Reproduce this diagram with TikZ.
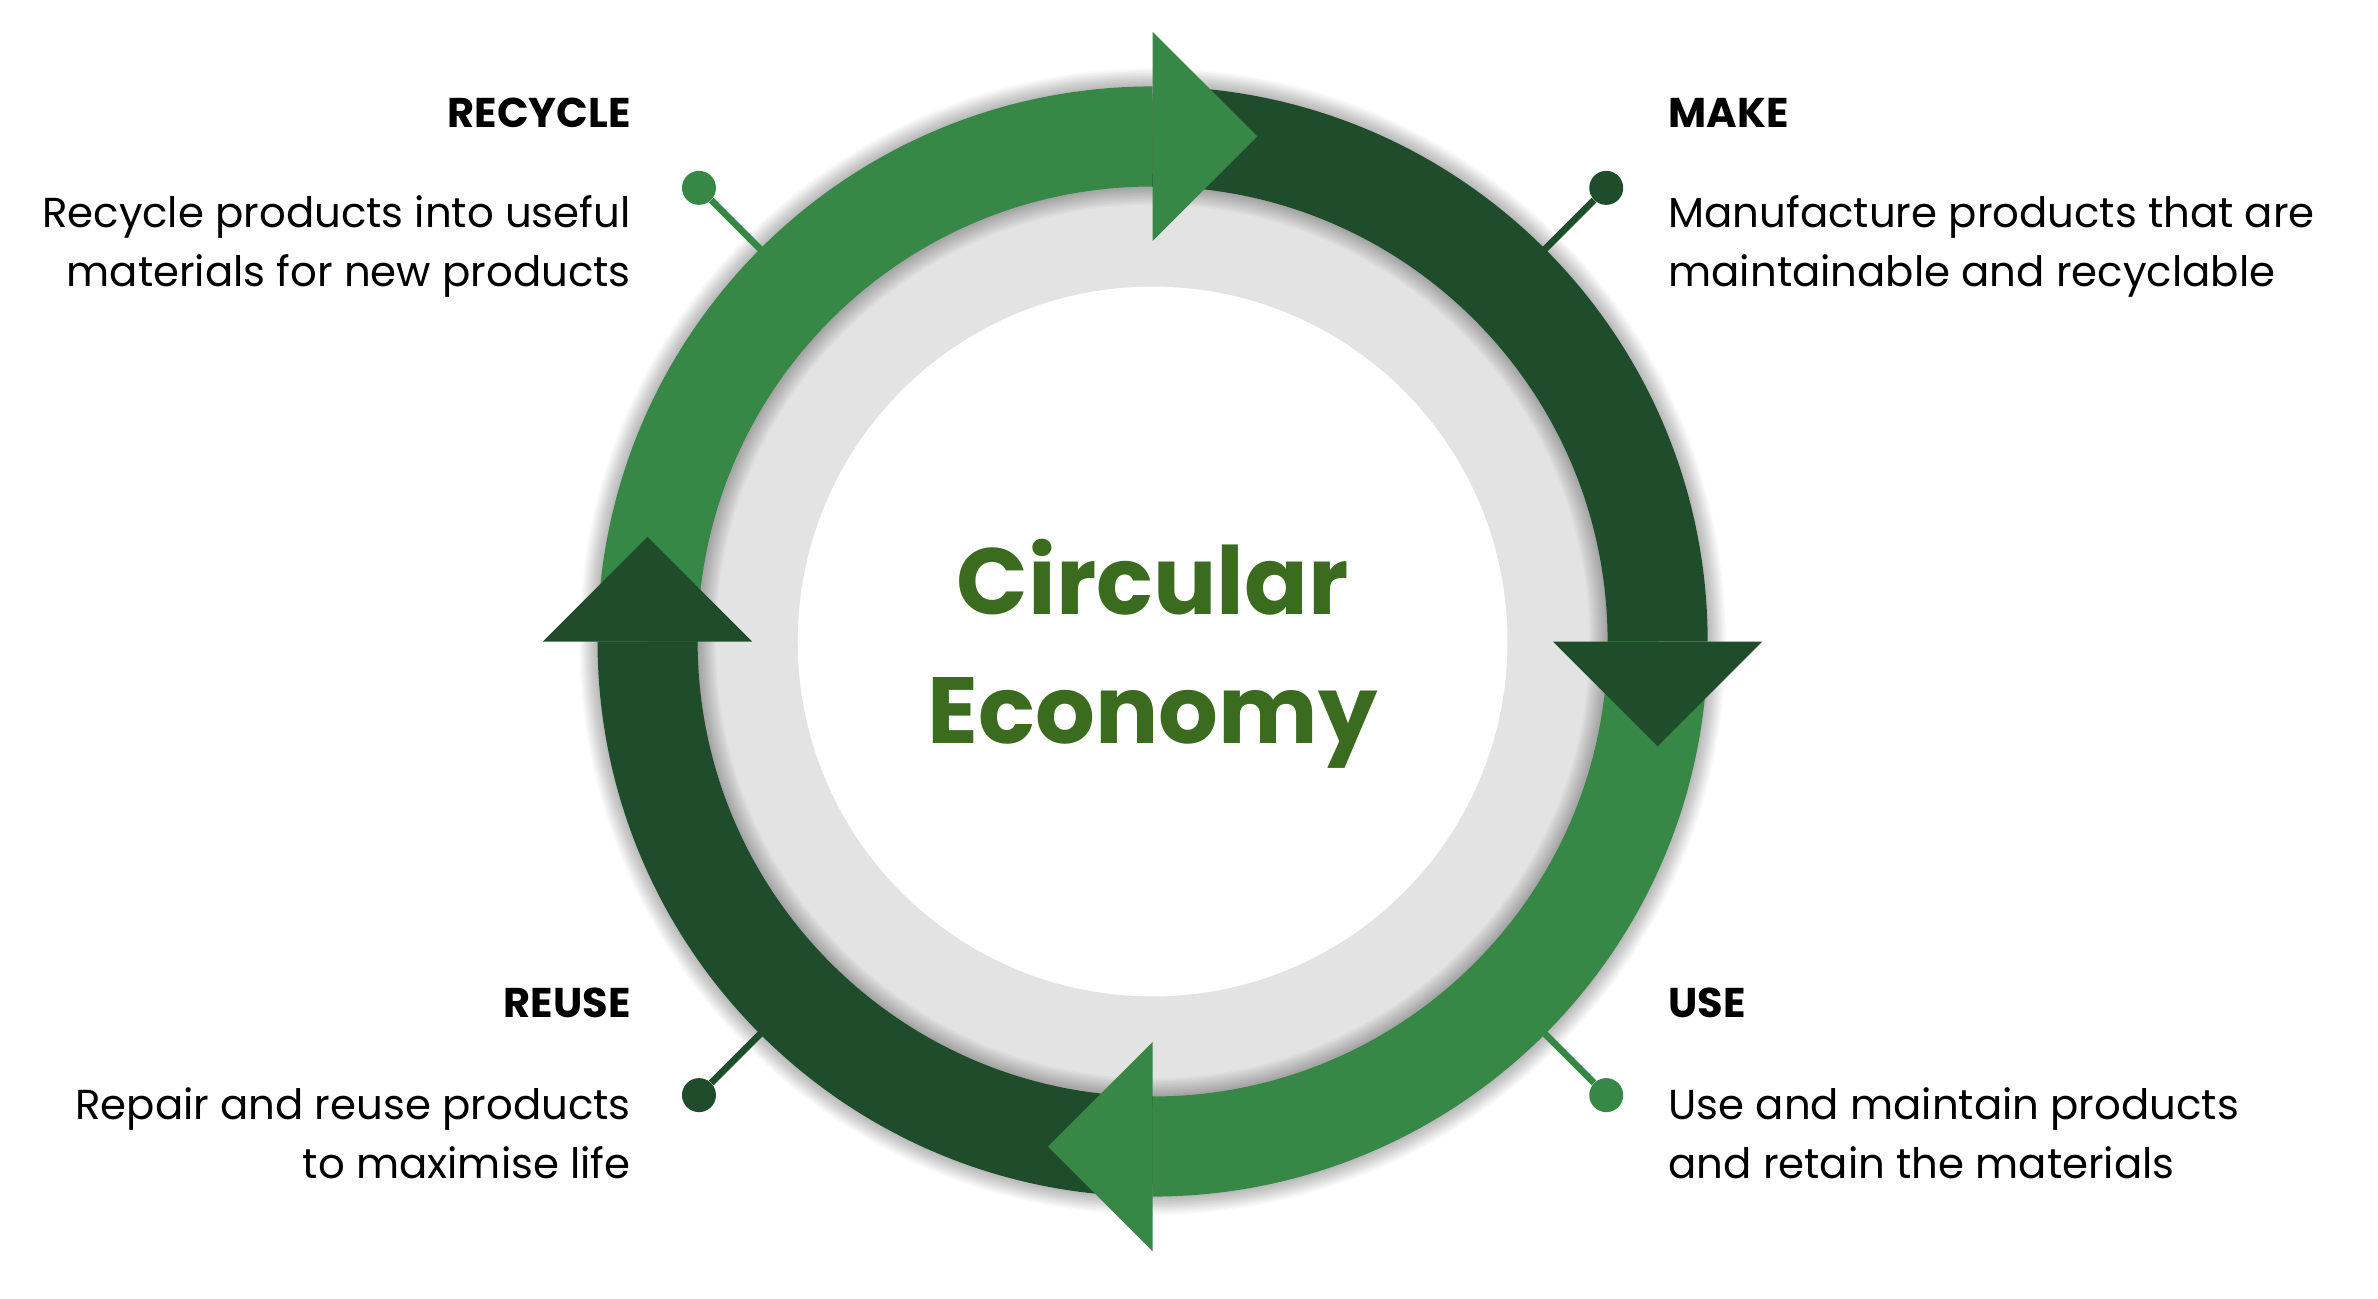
\documentclass[tikz,border=0pt]{standalone}
\usepackage{fontspec}
\setmainfont{Poppins}
\usetikzlibrary{calc}
\definecolor{lgreen}{HTML}{378747}
\definecolor{dgreen}{HTML}{1F4D2B}
\definecolor{tgreen}{HTML}{3B6B1F}
\definecolor{ringgrey}{HTML}{E3E3E3}
\begin{document}
\begin{tikzpicture}[x=1pt,y=1pt,
  title/.style={font=\fontsize{27.4}{32}\selectfont\bfseries, text=black, inner sep=0pt},
  body/.style={font=\fontsize{27.6}{39}\selectfont, text=black, inner sep=0pt},
  center/.style={font=\fontsize{62}{85}\selectfont\bfseries, text=tgreen, inner sep=0pt, anchor=base},
  pinline/.style={line width=4.4pt},
  pindot/.style={circle, minimum size=22.4pt, inner sep=0pt},
  band/.style={line width=66pt},
]
\useasboundingbox (0,0) rectangle (1568,856);
\fill[white] (0,0) rectangle (1568,856);
\coordinate (C) at (760,433);
\fill[ringgrey] (C) circle[radius=333pt];
\fill[white] (C) circle[radius=234pt];
% soft shadow around the ring
\foreach \i [evaluate=\i as \w using 66+2*\i] in {1,...,12}
  \draw[black, opacity=0.022, line width=\w pt] (C) circle[radius=333pt];
% bands
\draw[band, lgreen] ($(C)+(180:333pt)$) arc[start angle=180, end angle=90, radius=333pt];
\draw[band, dgreen] ($(C)+(90:333pt)$) arc[start angle=90, end angle=0, radius=333pt];
\draw[band, lgreen] ($(C)+(0:333pt)$) arc[start angle=0, end angle=-90, radius=333pt];
\draw[band, dgreen] ($(C)+(-90:333pt)$) arc[start angle=-90, end angle=-180, radius=333pt];
% arrow heads
\foreach \a/\c in {0/lgreen, -90/dgreen, -180/lgreen, -270/dgreen}
  \fill[\c, shift={(760,433)}, rotate=\a] (0,264) -- (0,402) -- (69,333) -- cycle;
% pins
\foreach \n/\a/\c in {rec/135/lgreen, mak/45/dgreen, use/-45/lgreen, reu/-135/dgreen} {
  \coordinate (\n-a) at ($(C)+(\a:362pt)$);
  \node[pindot, fill=\c] (\n-d) at ($(C)+(\a:423pt)$) {};
  \draw[pinline, \c] (\n-a) -- (\n-d);
}
% texts
\node[title, anchor=base east] (rect) at (416,772) {RECYCLE};
\node[body, anchor=base east] (rec1) at (416,706) {Recycle products into useful};
\node[body, anchor=base east] (rec2) at (416,667) {materials for new products};
\node[title, anchor=base west] (makt) at (1100,772) {MAKE};
\node[body, anchor=base west] (mak1) at (1100,706) {Manufacture products that are};
\node[body, anchor=base west] (mak2) at (1100,667) {maintainable and recyclable};
\node[title, anchor=base east] (reut) at (416,185) {REUSE};
\node[body, anchor=base east] (reu1) at (416,118) {Repair and reuse products};
\node[body, anchor=base east] (reu2) at (416,79) {to maximise life};
\node[title, anchor=base west] (uset) at (1100,185) {USE};
\node[body, anchor=base west] (use1) at (1100,118) {Use and maintain products};
\node[body, anchor=base west] (use2) at (1100,79) {and retain the materials};
\node[center] (c1) at (760,451) {Circular};
\node[center] (c2) at (760,366) {Economy};
\end{tikzpicture}
\end{document}
